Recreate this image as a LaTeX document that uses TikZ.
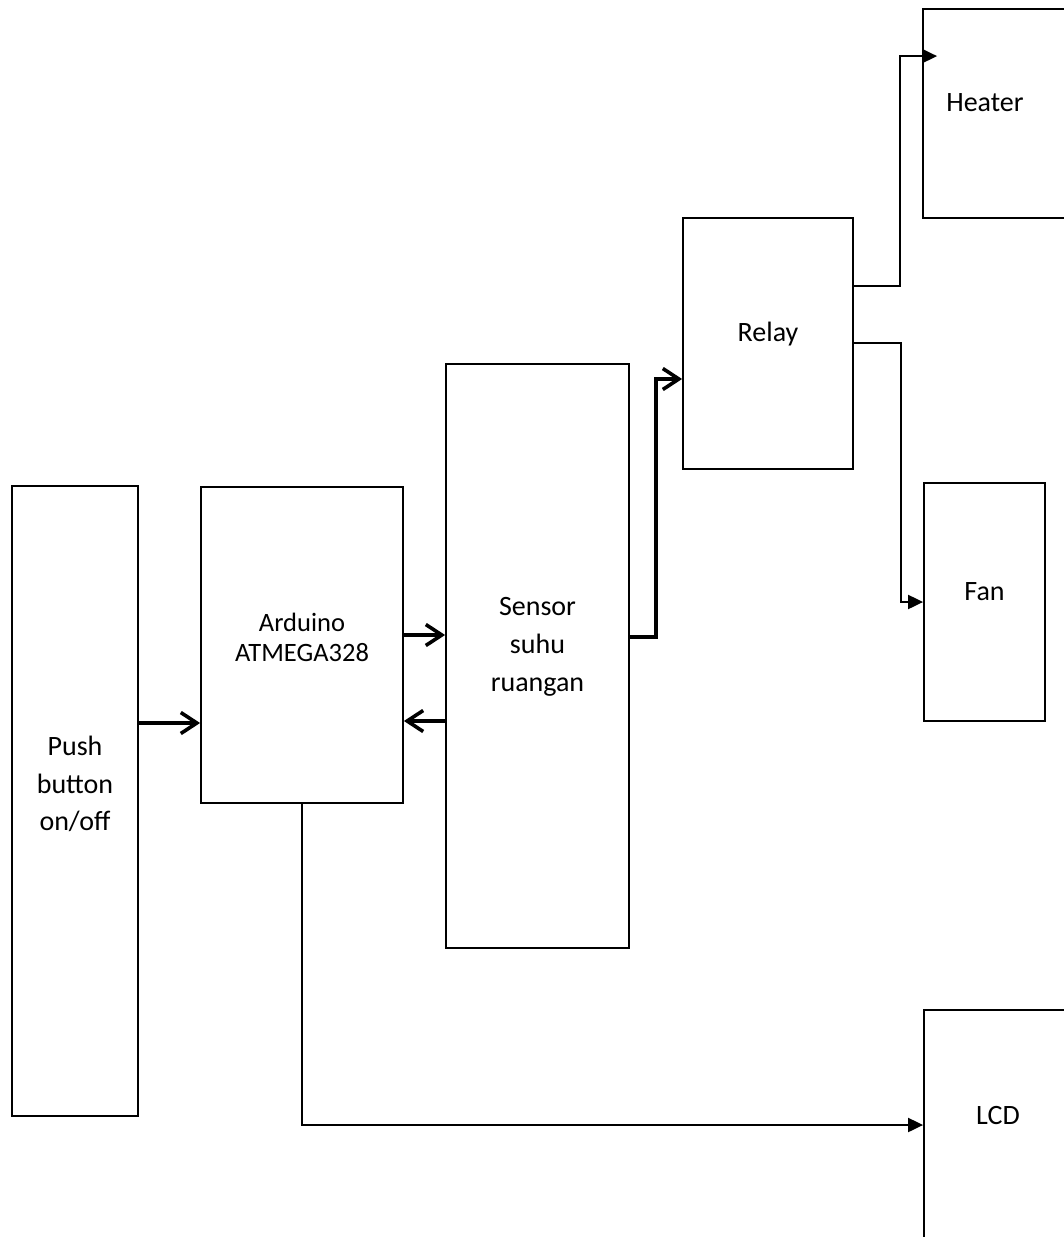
\documentclass[tikz,border=0pt]{standalone}
\usepackage{fontspec}
\setmainfont{Carlito}
\usetikzlibrary{arrows.meta,calc}
\tikzset{
  box/.style={draw, line width=1.8pt, inner sep=0pt},
  lbl/.style={align=center, inner sep=0pt, font=\fontsize{28}{37.5}\selectfont},
  bar/.style={line width=3.2pt, -{Straight Barb[length=16pt,width=21pt,line width=3.6pt]}},
  tri/.style={line width=2pt, -{Triangle[length=15pt,width=14pt]}}
}
\begin{document}
\begin{tikzpicture}[x=1pt,y=-1pt]
\clip (0,0) rectangle (1064,1237);
\fill[white] (0,0) rectangle (1064,1237);
% boxes
\node[box, minimum width=126pt, minimum height=630pt] (push) at (75,801) {};
\node[box, minimum width=202pt, minimum height=316pt] (ard) at (302,645) {};
\node[box, minimum width=183pt, minimum height=584pt] (sensor) at (537.5,656) {};
\node[box, minimum width=170pt, minimum height=251pt] (relay) at (768,343.5) {};
\node[box, minimum width=157pt, minimum height=209pt] (heater) at (1001.5,113.5) {};
\node[box, minimum width=121pt, minimum height=238pt] (fan) at (984.5,602) {};
\node[box, minimum width=148pt, minimum height=230pt] (lcd) at (998,1125) {};
% labels
\node[lbl] (pushT) at (75,784) {Push\\button\\on/off};
\node[lbl, font=\fontsize{26.5}{30}\selectfont] (ardT) at (302,637) {Arduino\\ATMEGA328};
\node[lbl, font=\fontsize{28}{38}\selectfont] (sensorT) at (537.5,647) {Sensor\\suhu\\ruangan};
\node[lbl] (relayT) at (768,334) {Relay};
\node[lbl] (heaterT) at (985,103) {Heater};
\node[lbl] (fanT) at (984.5,592) {Fan};
\node[lbl] (lcdT) at (998,1115) {LCD};
% connectors
\coordinate (p1) at ([yshift=78pt]push.east);
\draw[bar] (p1) -- (p1 -| ard.west);
\coordinate (a1) at ([yshift=10pt]ard.east);
\draw[bar] (a1) -- (a1 -| sensor.west);
\coordinate (a2) at ([yshift=-76pt]ard.east);
\draw[bar] (a2 -| sensor.west) -- (a2);
\coordinate (s1) at ([yshift=19pt]sensor.east);
\coordinate (r1) at ([yshift=-35.5pt]relay.west);
\draw[bar] (s1) -- ++(26,0) |- (r1);
\coordinate (rh) at ([yshift=-69pt]relay.north east);
\coordinate (hh) at ([yshift=-48pt]heater.north west);
\draw[tri] (rh) -| ([xshift=-22pt]hh) -- ([xshift=15pt]hh);
\coordinate (rf) at ([yshift=-126pt]relay.north east);
\draw[tri] (rf) -| ([xshift=-22pt]fan.west) -- (fan.west);
\draw[tri] (ard.south) |- (lcd.west);
\end{tikzpicture}
\end{document}
